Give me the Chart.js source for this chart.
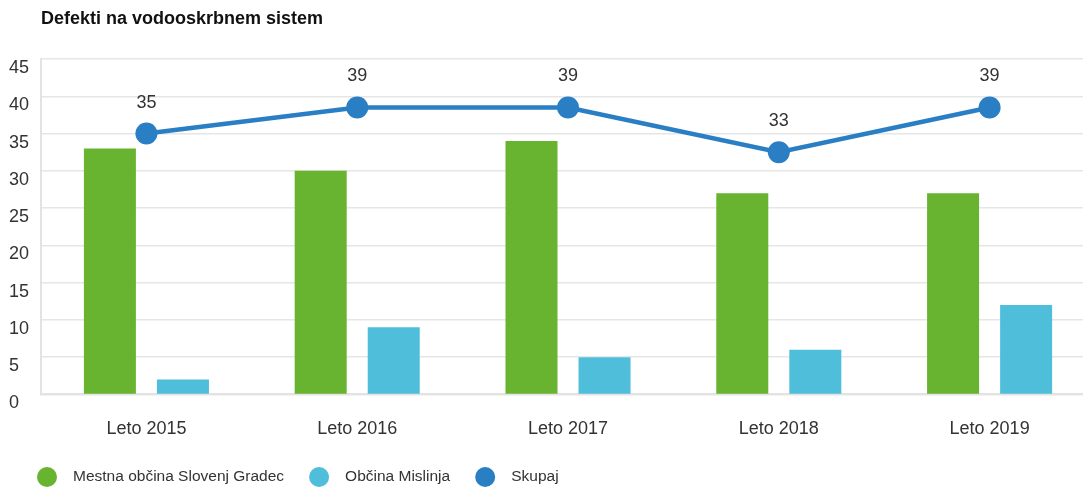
<!DOCTYPE html>
<html>
<head>
<meta charset="utf-8">
<script src="https://cdn.jsdelivr.net/npm/chart.js@4/dist/chart.umd.min.js"></script>
<style>
  html, body { margin: 0; padding: 0; background: #fff; overflow: hidden; }
  #wrap { width: 1107px; height: 487px; }
  #myChart { display: block; width: 1107px; height: 487px; }
</style>
</head>
<body>
<div id="wrap"><canvas id="myChart" width="1107" height="487"></canvas></div>
<script>
  const title = 'Defekti na vodooskrbnem sistem';
  const categories = ['Leto 2015', 'Leto 2016', 'Leto 2017', 'Leto 2018', 'Leto 2019'];
  const slovenjGradec = [33, 30, 34, 27, 27];
  const mislinja = [2, 9, 5, 6, 12];
  const skupaj = [35, 38.5, 38.5, 32.5, 38.5];

  const GREEN = '#68b32f';
  const LIGHT = '#4fbedb';
  const DARK = '#2a7fc4';
  const FONT = "'Liberation Sans', Arial, sans-serif";

  // y labels sit just under their grid line
  const yLabelsTop = {
    id: 'yLabelsTop',
    beforeDraw(chart) {
      const y = chart.scales.y;
      y.getLabelItems(chart.chartArea).forEach((label) => {
        label.options.textBaseline = 'top';
      });
    }
  };

  // value labels above the line points
  const pointLabels = {
    id: 'pointLabels',
    afterDatasetsDraw(chart) {
      const {ctx} = chart;
      const meta = chart.getDatasetMeta(2);
      ctx.save();
      ctx.font = '18px ' + FONT;
      ctx.fillStyle = '#333';
      ctx.textAlign = 'center';
      ctx.textBaseline = 'middle';
      meta.data.forEach((pt, i) => {
        ctx.fillText(String(Math.round(skupaj[i])), pt.x, pt.y - 31);
      });
      ctx.restore();
    }
  };

  // title + legend drawn by hand
  const titleLegend = {
    id: 'titleLegend',
    afterDraw(chart) {
      const {ctx} = chart;
      ctx.save();
      ctx.font = 'bold 18px ' + FONT;
      ctx.fillStyle = '#111';
      ctx.textBaseline = 'middle';
      ctx.textAlign = 'left';
      ctx.fillText(title, 41, 19);

      ctx.font = '15.5px ' + FONT;
      let cx = 47;
      const cy = 477;
      chart.data.datasets.forEach((ds) => {
        ctx.beginPath();
        ctx.fillStyle = ds.legendColor;
        ctx.arc(cx, cy, 10, 0, Math.PI * 2);
        ctx.fill();
        ctx.fillStyle = '#333';
        ctx.fillText(ds.label, cx + 26, cy);
        cx = cx + 26 + ctx.measureText(ds.label).width + 35;
      });
      ctx.restore();
    }
  };

  const data = {
    labels: categories,
    datasets: [
      {
        label: 'Mestna občina Slovenj Gradec',
        data: slovenjGradec,
        backgroundColor: GREEN,
        legendColor: GREEN,
        borderWidth: 0,
        categoryPercentage: 0.693,
        barPercentage: 0.712,
        order: 1
      },
      {
        label: 'Občina Mislinja',
        data: mislinja,
        backgroundColor: LIGHT,
        legendColor: LIGHT,
        borderWidth: 0,
        categoryPercentage: 0.693,
        barPercentage: 0.712,
        order: 1
      },
      {
        type: 'line',
        label: 'Skupaj',
        data: skupaj,
        borderColor: DARK,
        backgroundColor: DARK,
        legendColor: DARK,
        borderWidth: 4.5,
        pointRadius: 11,
        pointHoverRadius: 11,
        pointBackgroundColor: DARK,
        pointBorderWidth: 0,
        tension: 0,
        order: 0
      }
    ]
  };

  const config = {
    type: 'bar',
    data,
    options: {
      responsive: false,
      animation: false,
      layout: {
        padding: {left: 9, top: 59, right: 12, bottom: 23}
      },
      plugins: {
        legend: {display: false},
        title: {display: false},
        tooltip: {enabled: false}
      },
      scales: {
        x: {
          grid: {display: false, drawTicks: false},
          border: {display: true, color: '#e3e3e3', width: 2},
          ticks: {
            color: '#333',
            padding: 24,
            font: {family: FONT, size: 18}
          }
        },
        y: {
          min: 0,
          max: 45,
          border: {display: true, color: '#e3e3e3', width: 2},
          grid: {
            color: '#e6e6e6',
            lineWidth: 1.5,
            drawTicks: false
          },
          ticks: {
            stepSize: 5,
            color: '#333',
            padding: 6,
            crossAlign: 'far',
            font: {family: FONT, size: 18}
          }
        }
      }
    },
    plugins: [yLabelsTop, pointLabels, titleLegend]
  };

  const myChart = new Chart(
    document.getElementById('myChart'),
    config
  );
</script>
</body>
</html>
